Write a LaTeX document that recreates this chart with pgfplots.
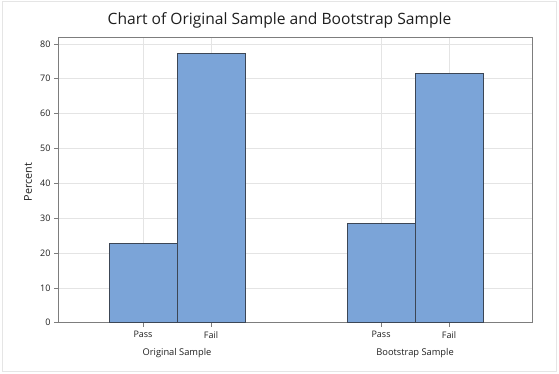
\documentclass[border=0pt]{standalone}
\usepackage{pgfplots}
\pgfplotsset{compat=1.18}
\usepackage{fontspec}
\setmainfont{Open Sans}
\definecolor{barfill}{RGB}{123,164,216}
\definecolor{baredge}{RGB}{60,70,85}
\definecolor{gridc}{RGB}{228,228,228}
\definecolor{axisc}{RGB}{125,125,125}
\definecolor{txt}{RGB}{30,30,30}
\begin{document}
\begin{tikzpicture}[x=1pt,y=1pt]
\path (0,0) rectangle (559,373);
\draw[gray!20, line width=1pt] (2,1.5) rectangle (556,371.5);
\node[font=\fontsize{15.6}{18}\selectfont, text=txt] at (279.5,353) {Chart of Original Sample and Bootstrap Sample};
\node[font=\fontsize{10.8}{12}\selectfont, text=txt, rotate=90] at (28,191) {Percent};
\begin{axis}[
  at={(58pt,50.3pt)}, anchor=south west,
  scale only axis, width=474.7pt, height=285.4pt,
  xmin=-1.25, xmax=5.73, ymin=0, ymax=81.9,
  xtick={0,1,3.5,4.5}, xticklabels={Pass,Fail,Pass,Fail},
  ytick={0,10,...,80},
  xmajorgrids, ymajorgrids,
  grid style={gridc, line width=0.6pt},
  axis line style={axisc, line width=0.8pt},
  tick style={axisc, line width=0.6pt},
  tick align=outside, major tick length=4pt,
  xtick pos=bottom, ytick pos=left,
  ticklabel style={font=\fontsize{9}{10}\selectfont, text=txt},
  xticklabel style={yshift=-1pt},
  /pgf/number format/assume math mode=true,
  clip=false,
]
\addplot[ybar, bar width=1, bar shift=0pt, fill=barfill, draw=baredge, line width=0.8pt]
  coordinates {(0,22.7) (1,77.3) (3.5,28.4) (4.5,71.6)};
\node[font=\fontsize{9.3}{10}\selectfont, text=txt] at (axis cs:0.5,0) [yshift=-30.5pt] {Original Sample};
\node[font=\fontsize{9.3}{10}\selectfont, text=txt] at (axis cs:4,0) [yshift=-30.5pt] {Bootstrap Sample};
\end{axis}
\end{tikzpicture}
\end{document}
